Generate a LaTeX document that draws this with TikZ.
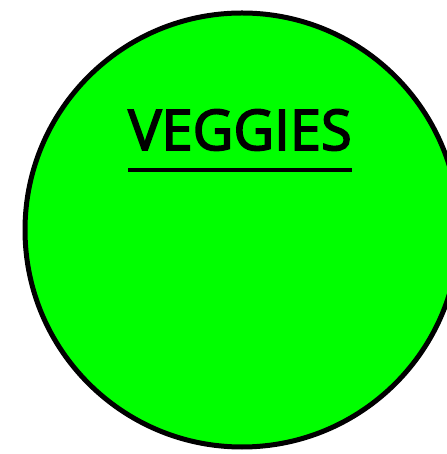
\documentclass[tikz,border=0pt]{standalone}
\usepackage{fontspec}
\setmainfont{Open Sans}
\newfontfamily\titlefont[FakeBold=3]{Open Sans}
\definecolor{veg}{RGB}{0,255,0}
\begin{document}
\begin{tikzpicture}[x=1pt,y=1pt,
  bubble/.style={circle,draw=black,fill=veg,line width=5pt,minimum size=434pt,inner sep=0pt},
  title/.style={font=\titlefont\fontsize{56}{56}\selectfont,anchor=base,inner sep=0pt}]
\useasboundingbox (0,0) rectangle (446,454);
\node[bubble] (c) at (242,224) {};
\node[title] (t) at (240,304) {VEGGIES};
\coordinate (ul) at (128,284);
\coordinate (ur) at (352,284);
\draw[line width=4.5pt] (ul) -- (ur);
\end{tikzpicture}
\end{document}
